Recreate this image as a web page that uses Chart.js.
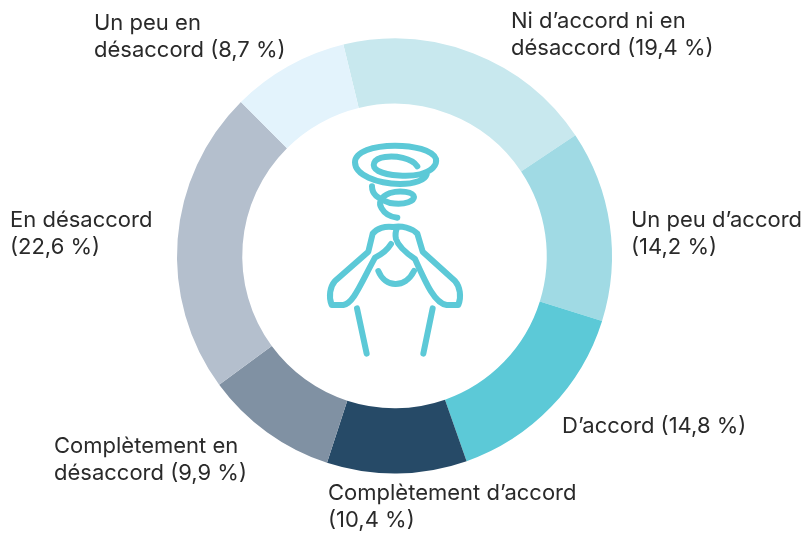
<!DOCTYPE html>
<html lang="fr">

<head>
    <meta charset="UTF-8">
    <title>Répartition des réponses</title>
    <script src="https://cdn.jsdelivr.net/npm/chart.js"></script>
    <style>
        html, body { margin: 0; padding: 0; background: #fff; }
        canvas { display: block; }
    </style>
</head>

<body>
    <canvas id="myChartCanvas" width="804" height="533"></canvas>

    <script>
        const categories = ['Ni d’accord ni en désaccord', 'Un peu d’accord', 'D’accord', 'Complètement d’accord', 'Complètement en désaccord', 'En désaccord', 'Un peu en désaccord'];
        const valeurs = [19.4, 14.2, 14.8, 10.4, 9.9, 22.6, 8.7];
        const couleurs = ['#c8e8ee', '#a0dae4', '#5cc9d7', '#264a67', '#8091a3', '#b4bfcd', '#e3f3fc'];
        const lignes = [
            ['Ni d’accord ni en', 'désaccord (19,4 %)'],
            ['Un peu d’accord', '(14,2 %)'],
            ['D’accord (14,8 %)'],
            ['Complètement d’accord', '(10,4 %)'],
            ['Complètement en', 'désaccord (9,9 %)'],
            ['En désaccord', '(22,6 %)'],
            ['Un peu en', 'désaccord (8,7 %)']
        ];

        // position du texte de chaque part (x gauche, ligne de base de la 1re ligne)
        const posLabels = [[511, 28], [631, 227], [562, 433], [328, 500], [54, 453], [10, 227], [94, 30]];

        const labelsPlugin = {
            id: 'labelsPlugin',
            afterDraw(chart) {
                const ctx = chart.ctx;
                ctx.save();
                ctx.font = '400 22px Inter, sans-serif';
                ctx.fillStyle = '#2a2a2a';
                ctx.textBaseline = 'alphabetic';
                lignes.forEach(function (l, i) {
                    l.forEach(function (txt, j) {
                        ctx.fillText(txt, posLabels[i][0], posLabels[i][1] + j * 27);
                    });
                });
                ctx.restore();
            }
        };

        // petit pictogramme au centre, tracé d'après le zoom (échelle 3x)
        const iconePlugin = {
            id: 'iconePlugin',
            afterDraw(chart) {
                const ctx = chart.ctx;
                const traits = [
                    'M322 94 C305 68 255 62 225 66 C190 70 180 95 205 108 C235 124 300 125 330 118 C365 110 382 90 378 72 C368 45 310 32 255 32 C190 32 135 50 135 82 C135 120 200 146 270 147 C315 147 345 135 350 118',
                    'M186 154 C186 178 200 188 240 204 C290 212 312 196 312 186 C310 170 270 165 240 174 C210 185 205 205 215 220 C225 238 245 246 262 248',
                    'M250 276 C225 272 200 280 188 296 L175 350 L75 438 C60 455 55 485 65 510 L100 510 C130 505 150 450 195 368 C215 358 232 345 243 327',
                    'M250 276 C275 272 305 278 322 296 L338 350 L435 438 C450 455 455 485 445 510 L410 510 C375 505 350 450 315 372 C290 355 265 335 258 312 C255 300 258 285 262 276',
                    'M205 408 C225 458 285 462 312 408',
                    'M141 520 L170 656',
                    'M368 520 L340 656'
                ];
                ctx.save();
                ctx.translate(310, 135);
                ctx.scale(1 / 3, 1 / 3);
                ctx.strokeStyle = '#5cc9d7';
                ctx.lineWidth = 18;
                ctx.lineCap = 'round';
                ctx.lineJoin = 'round';
                traits.forEach(function (d) {
                    ctx.stroke(new Path2D(d));
                });
                ctx.restore();
            }
        };

        new Chart(document.getElementById('myChartCanvas').getContext('2d'), {
            type: 'doughnut',
            data: {
                labels: categories,
                datasets: [{
                    data: valeurs,
                    backgroundColor: couleurs,
                    borderWidth: 0
                }]
            },
            options: {
                responsive: false,
                animation: false,
                rotation: -13.6,
                cutout: '70%',
                layout: { padding: { top: 38, bottom: 59, left: 177, right: 192 } },
                plugins: {
                    legend: { display: false },
                    tooltip: { enabled: false }
                }
            },
            plugins: [labelsPlugin, iconePlugin]
        });
    </script>
</body>

</html>
